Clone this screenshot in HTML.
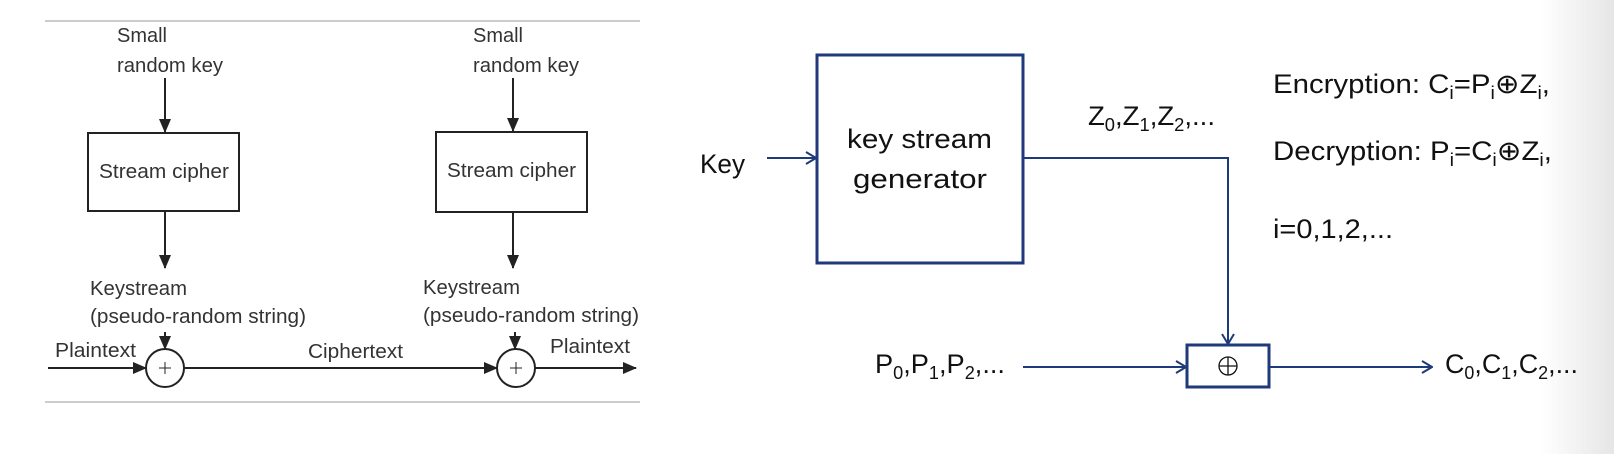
<!DOCTYPE html>
<html><head><meta charset="utf-8"><style>
html,body{margin:0;padding:0;background:#fff;}
body{width:1614px;height:454px;overflow:hidden;position:relative;}
.grad{position:absolute;left:1540px;top:0;width:74px;height:454px;background:linear-gradient(to right,#fff,#e6e6e6);}
svg{position:absolute;left:0;top:0;}
.l{font-family:"Liberation Sans Narrow","Liberation Sans",sans-serif;font-size:20px;fill:#333;}
.r{font-family:"Liberation Sans",sans-serif;font-size:27px;fill:#111;}
.s{font-size:18px;}
</style></head><body>
<div class="grad"></div>
<svg width="1614" height="454" viewBox="0 0 1614 454">
<defs>
<marker id="ab" markerWidth="14" markerHeight="12" refX="13" refY="6" orient="auto" markerUnits="userSpaceOnUse"><path d="M0,0 L14,6 L0,12 Z" fill="#222"/></marker>
<marker id="an" markerWidth="12" markerHeight="14" refX="11" refY="7" orient="auto" markerUnits="userSpaceOnUse"><path d="M1,1 L11,7 L1,13" fill="none" stroke="#1f3a7a" stroke-width="2"/></marker>
</defs>
<!-- left panel -->
<line x1="45" y1="21" x2="640" y2="21" stroke="#bbb" stroke-width="1.5"/>
<line x1="45" y1="402" x2="640" y2="402" stroke="#bbb" stroke-width="1.5"/>
<g stroke="#222" stroke-width="2" fill="none">
<rect x="88" y="133" width="151" height="78"/>
<rect x="436" y="132" width="151" height="80"/>
<line x1="165" y1="78" x2="165" y2="132" marker-end="url(#ab)"/>
<line x1="513" y1="78" x2="513" y2="131" marker-end="url(#ab)"/>
<line x1="165" y1="211" x2="165" y2="268" marker-end="url(#ab)"/>
<line x1="513" y1="212" x2="513" y2="268" marker-end="url(#ab)"/>
<line x1="165" y1="332" x2="165" y2="349" marker-end="url(#ab)"/>
<line x1="515" y1="332" x2="515" y2="349" marker-end="url(#ab)"/>
<circle cx="165" cy="368" r="19"/>
<circle cx="516" cy="368" r="19"/>
<line x1="48" y1="368" x2="146" y2="368" marker-end="url(#ab)"/>
<line x1="184" y1="368" x2="497" y2="368" marker-end="url(#ab)"/>
<line x1="535" y1="368" x2="636" y2="368" marker-end="url(#ab)"/>
<line x1="165" y1="362" x2="165" y2="374" stroke-width="1"/><line x1="159" y1="368" x2="171" y2="368" stroke-width="1"/>
<line x1="516" y1="362" x2="516" y2="374" stroke-width="1"/><line x1="510" y1="368" x2="522" y2="368" stroke-width="1"/>
</g>
<text class="l" x="117" y="42" textLength="50" lengthAdjust="spacingAndGlyphs">Small</text>
<text class="l" x="117" y="72" textLength="106" lengthAdjust="spacingAndGlyphs">random key</text>
<text class="l" x="473" y="42" textLength="50" lengthAdjust="spacingAndGlyphs">Small</text>
<text class="l" x="473" y="72" textLength="106" lengthAdjust="spacingAndGlyphs">random key</text>
<text class="l" x="99" y="178" textLength="130" lengthAdjust="spacingAndGlyphs">Stream cipher</text>
<text class="l" x="447" y="177" textLength="129" lengthAdjust="spacingAndGlyphs">Stream cipher</text>
<text class="l" x="90" y="295" textLength="97" lengthAdjust="spacingAndGlyphs">Keystream</text>
<text class="l" x="90" y="323" textLength="216" lengthAdjust="spacingAndGlyphs">(pseudo-random string)</text>
<text class="l" x="423" y="294" textLength="97" lengthAdjust="spacingAndGlyphs">Keystream</text>
<text class="l" x="423" y="322" textLength="216" lengthAdjust="spacingAndGlyphs">(pseudo-random string)</text>
<text class="l" x="55" y="357" textLength="81" lengthAdjust="spacingAndGlyphs">Plaintext</text>
<text class="l" x="308" y="358" textLength="95" lengthAdjust="spacingAndGlyphs">Ciphertext</text>
<text class="l" x="550" y="353" textLength="80" lengthAdjust="spacingAndGlyphs">Plaintext</text>
<!-- right panel -->
<g stroke="#1f3a7a" fill="none">
<rect x="817" y="55" width="206" height="208" stroke-width="3"/>
<rect x="1187" y="345" width="82" height="42" stroke-width="3"/>
<line x1="767" y1="158" x2="816" y2="158" stroke-width="2" marker-end="url(#an)"/>
<polyline points="1023,158 1228,158 1228,344" stroke-width="2" marker-end="url(#an)"/>
<line x1="1023" y1="367" x2="1186" y2="367" stroke-width="2" marker-end="url(#an)"/>
<line x1="1269" y1="367" x2="1432" y2="367" stroke-width="2" marker-end="url(#an)"/>
</g>
<g stroke="#111" stroke-width="1.3" fill="none">
<circle cx="1228" cy="366" r="9"/><line x1="1219" y1="366" x2="1237" y2="366"/><line x1="1228" y1="357" x2="1228" y2="375"/>
</g>
<text class="r" x="700" y="173" textLength="45" lengthAdjust="spacingAndGlyphs">Key</text>
<text class="r" x="847" y="148" textLength="145" lengthAdjust="spacingAndGlyphs">key stream</text>
<text class="r" x="853" y="188" textLength="134" lengthAdjust="spacingAndGlyphs">generator</text>
<text class="r" x="1088" y="125" textLength="127" lengthAdjust="spacingAndGlyphs">Z<tspan class="s" dy="6">0</tspan><tspan dy="-6">,Z</tspan><tspan class="s" dy="6">1</tspan><tspan dy="-6">,Z</tspan><tspan class="s" dy="6">2</tspan><tspan dy="-6">,...</tspan></text>
<text class="r" x="875" y="373" textLength="130" lengthAdjust="spacingAndGlyphs">P<tspan class="s" dy="6">0</tspan><tspan dy="-6">,P</tspan><tspan class="s" dy="6">1</tspan><tspan dy="-6">,P</tspan><tspan class="s" dy="6">2</tspan><tspan dy="-6">,...</tspan></text>
<text class="r" x="1445" y="373" textLength="133" lengthAdjust="spacingAndGlyphs">C<tspan class="s" dy="6">0</tspan><tspan dy="-6">,C</tspan><tspan class="s" dy="6">1</tspan><tspan dy="-6">,C</tspan><tspan class="s" dy="6">2</tspan><tspan dy="-6">,...</tspan></text>
<text class="r" x="1273" y="93" textLength="277" lengthAdjust="spacingAndGlyphs">Encryption: C<tspan class="s" dy="6">i</tspan><tspan dy="-6">=P</tspan><tspan class="s" dy="6">i</tspan><tspan dy="-6">⊕Z</tspan><tspan class="s" dy="6">i</tspan><tspan dy="-6">,</tspan></text>
<text class="r" x="1273" y="160" textLength="279" lengthAdjust="spacingAndGlyphs">Decryption: P<tspan class="s" dy="6">i</tspan><tspan dy="-6">=C</tspan><tspan class="s" dy="6">i</tspan><tspan dy="-6">⊕Z</tspan><tspan class="s" dy="6">i</tspan><tspan dy="-6">,</tspan></text>
<text class="r" x="1273" y="238" textLength="120" lengthAdjust="spacingAndGlyphs">i=0,1,2,...</text>
</svg>
</body></html>
